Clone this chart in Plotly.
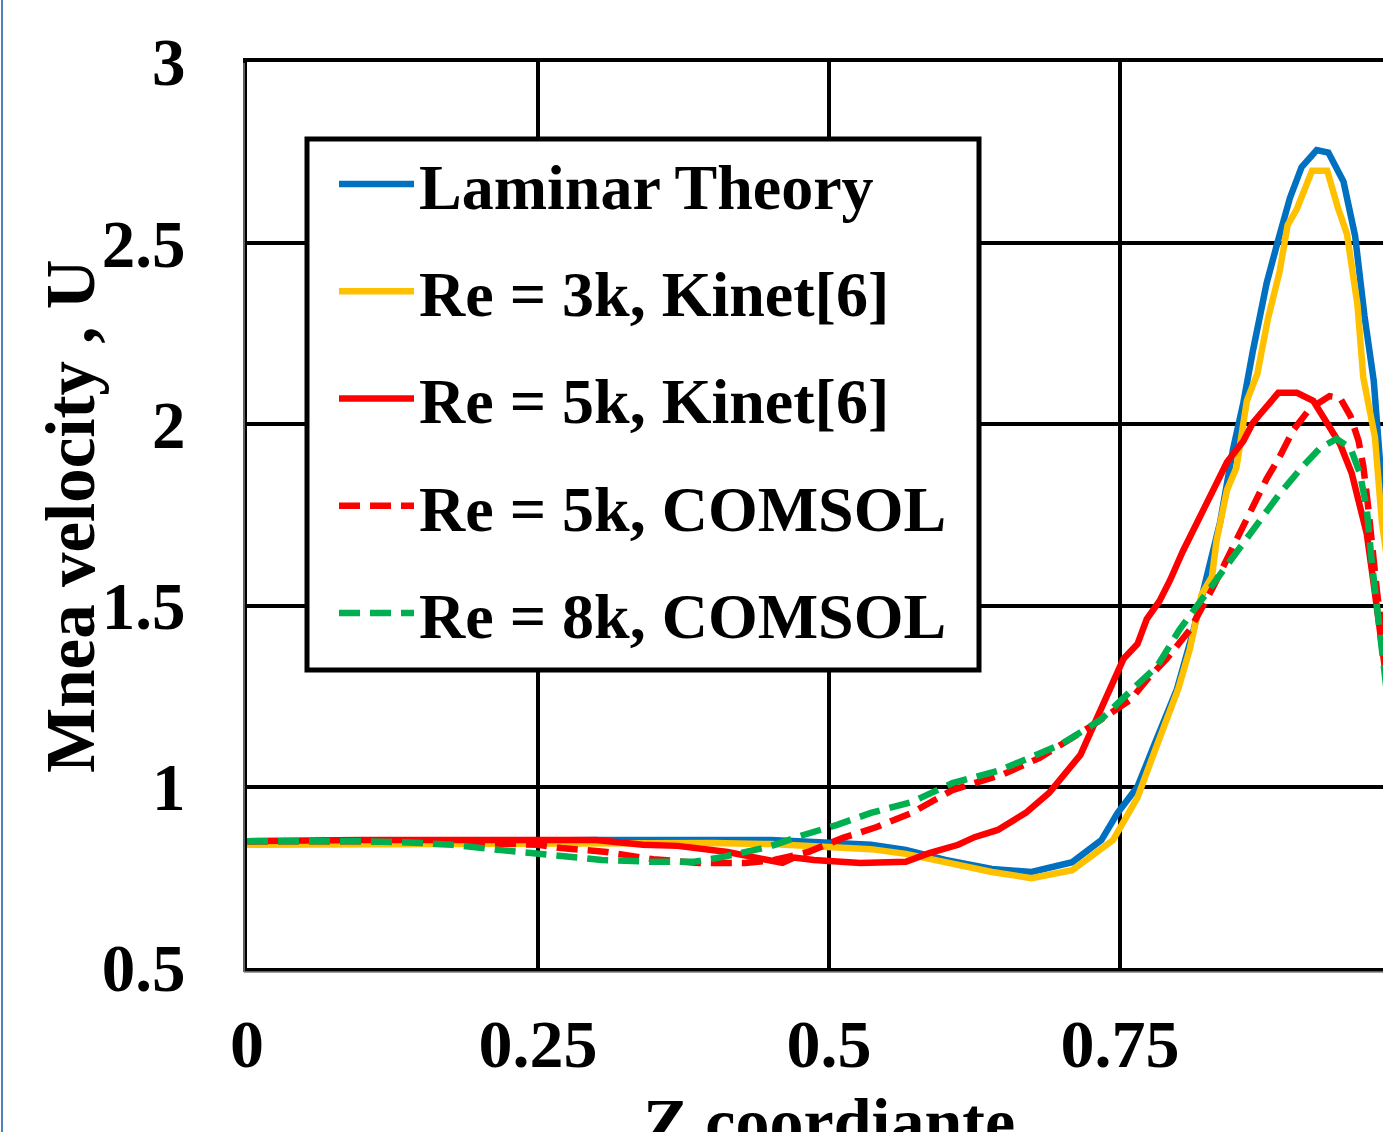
import plotly.graph_objects as go

# ---------------- data ----------------
lam_x = [0, 0.05, 0.1, 0.15, 0.2, 0.25, 0.3, 0.35, 0.4, 0.45, 0.487, 0.536, 0.566, 0.6, 0.64, 0.674,
         0.709, 0.734, 0.748, 0.765, 0.78, 0.799, 0.813, 0.825, 0.836, 0.847, 0.856, 0.864, 0.876,
         0.886, 0.896, 0.906, 0.919, 0.929, 0.942, 0.952, 0.960, 0.968, 0.975, 0.985]
lam_y = [0.845, 0.847, 0.848, 0.849, 0.850, 0.852, 0.853, 0.853, 0.854, 0.853, 0.848, 0.840, 0.826,
         0.798, 0.773, 0.765, 0.792, 0.853, 0.928, 1.00, 1.12, 1.27, 1.43, 1.58, 1.73, 1.93, 2.06,
         2.20, 2.39, 2.51, 2.625, 2.71, 2.757, 2.75, 2.67, 2.52, 2.30, 2.12, 1.83, 1.55]

re3_x = [0, 0.05, 0.1, 0.15, 0.2, 0.25, 0.3, 0.35, 0.4, 0.45, 0.487, 0.536, 0.566, 0.6, 0.64, 0.674,
         0.709, 0.744, 0.765, 0.78, 0.80, 0.81, 0.82, 0.829, 0.833, 0.842, 0.850, 0.859, 0.868, 0.877,
         0.887, 0.894, 0.902, 0.915, 0.928, 0.937, 0.945, 0.954, 0.959, 0.969, 0.975, 0.985]
re3_y = [0.840, 0.841, 0.842, 0.843, 0.844, 0.846, 0.847, 0.846, 0.845, 0.842, 0.835, 0.828, 0.815,
         0.790, 0.765, 0.748, 0.770, 0.853, 0.97, 1.10, 1.27, 1.38, 1.53, 1.58, 1.68, 1.82, 1.88,
         2.065, 2.14, 2.29, 2.42, 2.55, 2.595, 2.70, 2.70, 2.60, 2.525, 2.33, 2.13, 1.965, 1.73, 1.50]

re5k_x = [0, 0.05, 0.1, 0.15, 0.2, 0.25, 0.3, 0.34, 0.37, 0.413, 0.448, 0.46, 0.47, 0.487, 0.527,
          0.566, 0.586, 0.611, 0.625, 0.645, 0.669, 0.689, 0.716, 0.741, 0.753, 0.765, 0.773, 0.784,
          0.793, 0.804, 0.816, 0.827, 0.842, 0.856, 0.864, 0.886, 0.902, 0.916, 0.928, 0.939, 0.949,
          0.956, 0.962, 0.967, 0.972, 0.975, 0.985]
re5k_y = [0.850, 0.853, 0.853, 0.853, 0.853, 0.853, 0.853, 0.840, 0.837, 0.820, 0.800, 0.790, 0.805,
          0.798, 0.790, 0.793, 0.817, 0.840, 0.861, 0.881, 0.928, 0.983, 1.088, 1.27, 1.353, 1.394,
          1.463, 1.513, 1.57, 1.65, 1.728, 1.808, 1.896, 1.954, 2.004, 2.087, 2.087, 2.065, 2.004,
          1.946, 1.866, 1.767, 1.698, 1.582, 1.463, 1.383, 1.15]

re5c_x = [0, 0.1, 0.2, 0.25, 0.27, 0.309, 0.349, 0.388, 0.428, 0.453, 0.482, 0.512, 0.541, 0.571,
          0.606, 0.65, 0.681, 0.724, 0.759, 0.773, 0.79, 0.81, 0.83, 0.845, 0.856, 0.868, 0.876,
          0.887, 0.899, 0.913, 0.930, 0.939, 0.948, 0.955, 0.959, 0.963, 0.966, 0.971, 0.975, 0.985]
re5c_y = [0.850, 0.850, 0.845, 0.840, 0.831, 0.820, 0.800, 0.790, 0.790, 0.798, 0.820, 0.859, 0.889,
          0.928, 0.991, 1.035, 1.080, 1.165, 1.240, 1.295, 1.353, 1.433, 1.551, 1.651, 1.720, 1.797,
          1.850, 1.910, 1.985, 2.043, 2.078, 2.073, 2.023, 1.954, 1.885, 1.778, 1.678, 1.532, 1.433,
          1.25]

re8c_x = [0, 0.1, 0.15, 0.176, 0.216, 0.26, 0.305, 0.349, 0.384, 0.408, 0.428, 0.448, 0.478, 0.507,
          0.536, 0.571, 0.606, 0.647, 0.698, 0.733, 0.761, 0.782, 0.801, 0.821, 0.845, 0.868, 0.887,
          0.905, 0.922, 0.936, 0.948, 0.956, 0.962, 0.966, 0.971, 0.975, 0.985]
re8c_y = [0.850, 0.850, 0.845, 0.840, 0.826, 0.812, 0.798, 0.793, 0.793, 0.806, 0.820, 0.834, 0.867,
          0.895, 0.928, 0.958, 1.010, 1.046, 1.115, 1.184, 1.270, 1.333, 1.433, 1.520, 1.630, 1.728,
          1.808, 1.877, 1.935, 1.960, 1.935, 1.866, 1.767, 1.630, 1.483, 1.353, 1.10]

names = ["Laminar Theory", "Re = 3k, Kinet[6]", "Re = 5k, Kinet[6]",
         "Re = 5k, COMSOL", "Re = 8k, COMSOL"]
x_ticks = [0, 0.25, 0.5, 0.75]
x_ticktext = ["0", "0.25", "0.5", "0.75"]
y_ticks = [0.5, 1, 1.5, 2, 2.5, 3]
y_ticktext = ["0.5", "1", "1.5", "2", "2.5", "3"]

# ---------------- figure ----------------
W, H = 1383, 1132
L, R, T, B = 247, 0, 62, 164
FONT = "Liberation Serif, Times New Roman, serif"

series = [
    (lam_x, lam_y, "#0070C0", "solid", 6.5),
    (re3_x, re3_y, "#FFC000", "solid", 6.5),
    (re5k_x, re5k_y, "#FF0000", "solid", 6.5),
    (re5c_x, re5c_y, "#FF0000", "21px,10px", 6.5),
    (re8c_x, re8c_y, "#00B050", "21px,10px", 6.5),
]

fig = go.Figure()
for i, (xs, ys, col, dash, w) in enumerate(series):
    fig.add_trace(go.Scatter(x=xs, y=ys, mode="lines", name=names[i],
                             legendgroup=f"g{i}",
                             line=dict(color=col, width=w, dash=dash)))

pw = W - L - R
ph = H - T - B
def px2paper_x(px):
    return (px - L) / pw
def py2paper_y(py):
    return (H - B - py) / ph

x_max = 1.0 * (W - L - R) / 1164.0

fig.update_layout(
    width=W, height=H,
    margin=dict(l=L, r=R, t=T, b=B, autoexpand=False),
    paper_bgcolor="white", plot_bgcolor="white",
    font=dict(family=FONT, color="black", size=68, weight="bold"),
    showlegend=True,
    legend=dict(
        x=px2paper_x(334), y=py2paper_y(136), xanchor="left", yanchor="top",
        bgcolor="rgba(0,0,0,0)", borderwidth=0,
        font=dict(family=FONT, size=64, color="black", weight="bold"),
        tracegroupgap=21, itemwidth=75,
    ),
    xaxis=dict(
        range=[0, x_max], tickmode="array", tickvals=x_ticks, ticktext=x_ticktext,
        showgrid=True, gridcolor="black", gridwidth=4,
        showline=True, linecolor="black", linewidth=4, mirror=True,
        zeroline=False, ticks="", ticklabelstandoff=13,
        tickfont=dict(family=FONT, size=68, color="black", weight="bold"),
    ),
    yaxis=dict(
        range=[0.5, 3], tickmode="array", tickvals=y_ticks, ticktext=y_ticktext,
        showgrid=True, gridcolor="black", gridwidth=4,
        showline=True, linecolor="black", linewidth=4, mirror=False,
        zeroline=False, ticks="", ticklabelstandoff=44,
        tickfont=dict(family=FONT, size=67, color="black", weight="bold"),
    ),
    shapes=[
        # legend frame
        dict(type="rect", xref="paper", yref="paper",
             x0=px2paper_x(307), x1=px2paper_x(979), y0=py2paper_y(670), y1=py2paper_y(139),
             line=dict(color="black", width=5), fillcolor="white", layer="above"),
        # grey shadow lines along the left and bottom axes
        dict(type="line", xref="paper", yref="paper",
             x0=px2paper_x(244), x1=px2paper_x(244), y0=py2paper_y(972), y1=py2paper_y(63),
             line=dict(color="#808080", width=1.5)),
        dict(type="line", xref="paper", yref="paper",
             x0=px2paper_x(244), x1=1, y0=py2paper_y(972), y1=py2paper_y(972),
             line=dict(color="#808080", width=1.5)),
        # blue page frame on the left
        dict(type="line", xref="paper", yref="paper",
             x0=px2paper_x(2), x1=px2paper_x(2), y0=py2paper_y(H + 10), y1=py2paper_y(-10),
             line=dict(color="#4F81BD", width=2)),
    ],
    annotations=[
        dict(text="Mnea velocity , U", xref="paper", yref="paper",
             x=px2paper_x(71), y=py2paper_y(516), xanchor="center", yanchor="middle",
             textangle=-90, showarrow=False,
             font=dict(family=FONT, size=69, color="black", weight="bold")),
        dict(text="Z coordiante", xref="x", yref="paper",
             x=0.5, y=py2paper_y(1082), xanchor="center", yanchor="top",
             showarrow=False,
             font=dict(family=FONT, size=68, color="black", weight="bold")),
    ],
)

fig.write_html("out.html", config={"displayModeBar": False},
               post_script="document.body.style.margin='0px';document.body.style.overflow='hidden';")
